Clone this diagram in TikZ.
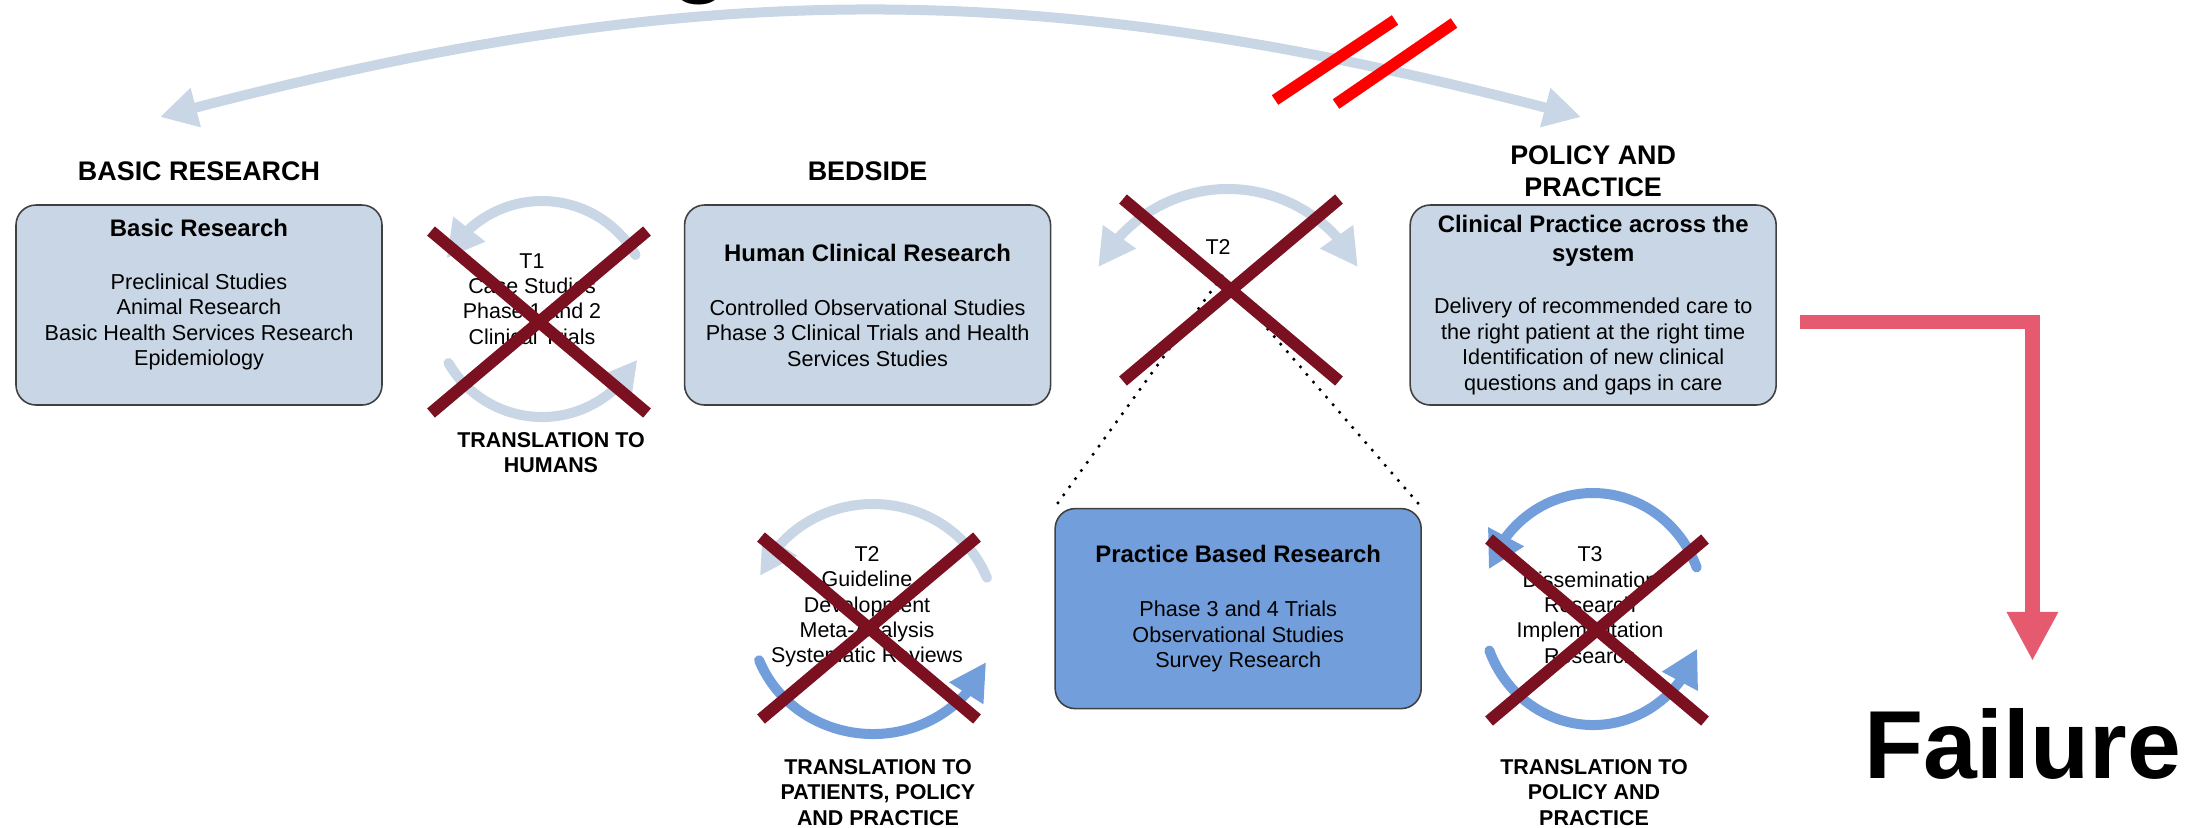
\documentclass[tikz,border=0pt]{standalone}
\usepackage{fontspec}
\setmainfont{Liberation Sans}
\usetikzlibrary{positioning,arrows.meta,bending,shapes.misc}

\definecolor{paleblue}{RGB}{200,214,229}
\definecolor{midblue}{RGB}{114,159,219}
\definecolor{nogored}{RGB}{122,16,32}
\definecolor{failpink}{RGB}{230,90,112}

\newcommand{\boxtitle}[1]{{\fontsize{6.8}{7.25}\selectfont\bfseries #1}}

\begin{document}
\begin{tikzpicture}[
      >={Triangle[length=0.37cm,width=0.38cm]},
      box/.style={draw=black!75, line width=0.45pt, rounded corners=0.2cm,
                  fill=paleblue, minimum width=3.66cm, minimum height=2cm,
                  inner sep=0pt, align=center,
                  font=\fontsize{6.15}{7.25}\selectfont},
      stagehead/.style={font=\fontsize{7.65}{8.9}\selectfont\bfseries,
                        align=center, inner sep=0pt},
      transl/.style={font=\fontsize{6.1}{7.2}\selectfont\bfseries,
                     align=center, inner sep=0pt},
      tlabel/.style={font=\fontsize{6.1}{7.2}\selectfont,
                     align=center, inner sep=0pt},
      cyclearc/.style={->, line width=0.1cm, line cap=round},
      nogo/.style={cross out, draw=nogored, line width=0.12cm,
                   minimum width=2.04cm, minimum height=1.7cm, inner sep=0pt},
      redbar/.style={draw=red, line width=0.115cm},
      zoomline/.style={line width=0.035cm, line cap=round,
                       dash pattern=on 0pt off 0.1cm},
      failline/.style={-{Triangle[length=0.49cm,width=0.48cm]},
                       draw=failpink, line width=0.145cm}
    ]
    \useasboundingbox (0,0) rectangle (22,-8.27);

    % cut-off title letter
    \node[font=\fontsize{27.5}{33}\selectfont\bfseries, anchor=south,
          inner sep=0pt] (titlecut) at (7.0,-0.06) {g};

    % big arc between basic research and policy
    \coordinate (arcL) at (1.60,-1.17);
    \coordinate (arcR) at (15.81,-1.17);
    \draw[<->, draw=paleblue, line width=0.1cm] (arcL) to[bend left=15] (arcR);
    \draw[redbar] (12.75,-1.00) -- (13.95,-0.20);
    \draw[redbar] (13.36,-1.04) -- (14.54,-0.23);

    % Stages
    \node[box] (basic) at (1.99,-3.05)
      {\boxtitle{Basic Research}\\[7.8pt]
       Preclinical Studies\\Animal Research\\
       Basic Health Services Research\\Epidemiology\\ \mbox{}};
    \node[box, right=3.01cm of basic] (clinical)
      {\boxtitle{Human Clinical Research}\\[8.1pt]
       Controlled Observational Studies\\
       Phase 3 Clinical Trials and Health\\Services Studies};
    \node[box, right=3.58cm of clinical] (practice)
      {\boxtitle{Clinical Practice across the}\\[1pt]\boxtitle{system}\\[7.5pt]
       Delivery of recommended care to\\the right patient at the right time\\
       Identification of new clinical\\questions and gaps in care};
    \node[box, fill=midblue, below right=1.02cm and 0.03cm of clinical.south east]
      (pbr)
      {\boxtitle{Practice Based Research}\\[8.1pt]
       Phase 3 and 4 Trials\\Observational Studies\\Survey Research};

    % Headings
    \node[stagehead, above=0.23cm of basic] (basichead) {BASIC RESEARCH};
    \node[stagehead, above=0.23cm of clinical] (bedside) {BEDSIDE};
    \node[stagehead, above=0.07cm of practice] (policy) {POLICY AND\\PRACTICE};

    % T1 cycle
    \coordinate (c1) at (5.42,-3.09);
    \draw[cyclearc, draw=paleblue] (c1) ++(30:1.08) arc[start angle=30, end angle=152, radius=1.08];
    \draw[cyclearc, draw=paleblue] (c1) ++(210:1.08) arc[start angle=210, end angle=332, radius=1.08];
    \node[tlabel] (t1) at (5.32,-2.99) {T1\\Case Studies\\Phase 1 and 2\\Clinical Trials};
    \node[nogo] (x1) at (5.39,-3.22) {};
    \node[transl] (tohumans) at (5.51,-4.525) {TRANSLATION TO\\HUMANS};

    % T2 between bedside and practice
    \coordinate (c2top) at (12.28,-3.36);
    \draw[cyclearc, <->, draw=paleblue] (c2top) ++(28:1.47) arc[start angle=28, end angle=152, radius=1.47];
    \coordinate (fork) at (12.22,-2.76);
    \draw[zoomline] (fork) -- (pbr.north west);
    \draw[zoomline] (fork) -- (pbr.north east);
    \node[tlabel] (t2top) at (12.18,-2.47) {T2};
    \node[nogo] (x2top) at (12.31,-2.90) {};

    % T2 cycle below
    \coordinate (c2) at (8.73,-6.19);
    \draw[cyclearc, draw=paleblue] (c2) ++(21:1.22 and 1.15) arc[start angle=21, end angle=158, x radius=1.22, y radius=1.15];
    \draw[cyclearc, draw=midblue] (c2) ++(201:1.22 and 1.15) arc[start angle=201, end angle=338, x radius=1.22, y radius=1.15];
    \node[tlabel] (t2) at (8.67,-6.07) {T2\\Guideline\\Development\\Meta-Analysis\\Systematic Reviews};
    \node[nogo] (x2) at (8.69,-6.28) {};
    \node[transl] (topatients) at (8.78,-7.925) {TRANSLATION TO\\PATIENTS, POLICY\\AND PRACTICE};

    % T3 cycle
    \coordinate (c3) at (15.93,-6.09);
    \draw[cyclearc, draw=midblue] (c3) ++(21:1.11 and 1.16) arc[start angle=21, end angle=160, x radius=1.11, y radius=1.16];
    \draw[cyclearc, draw=midblue] (c3) ++(201:1.11 and 1.16) arc[start angle=201, end angle=340, x radius=1.11, y radius=1.16];
    \node[tlabel] (t3) at (15.90,-6.05) {T3\\Dissemination\\Research\\Implementation\\Research};
    \node[nogo] (x3) at (15.97,-6.30) {};
    \node[transl] (topolicy) at (15.94,-7.925) {TRANSLATION TO\\POLICY AND\\PRACTICE};

    % Failure
    \node[font=\fontsize{27.5}{33}\selectfont\bfseries, anchor=base west,
          inner sep=0pt, outer xsep=0pt, outer ysep=0.47cm] (failure)
          at (18.64,-7.78) {Failure};
    \draw[failline] ([xshift=0.23cm,yshift=-0.17cm]practice.east)
      -| ([xshift=0.1cm]failure.north);

  \end{tikzpicture}
\end{document}
